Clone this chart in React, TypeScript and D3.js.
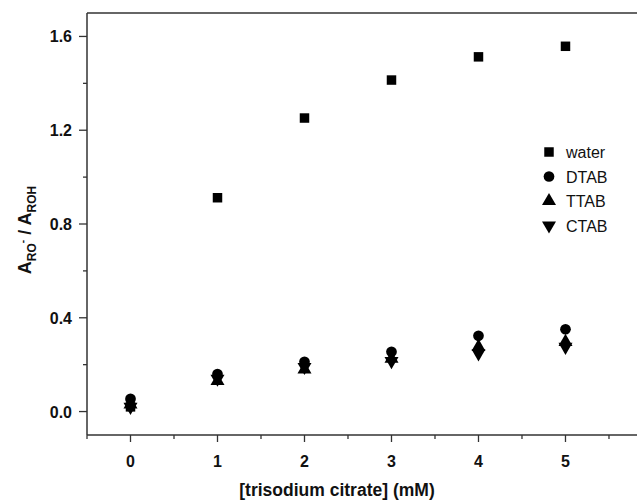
import React from "react";
import * as d3 from "d3";

const xValues = [0, 1, 2, 3, 4, 5];
const water = [0.02, 0.912, 1.252, 1.414, 1.513, 1.558];
const dtab = [0.054, 0.16, 0.212, 0.255, 0.323, 0.351];
const ttab = [0.03, 0.13, 0.18, 0.225, 0.276, 0.297];
const ctab = [0.02, 0.14, 0.19, 0.215, 0.248, 0.276];
const yTicks = [0.0, 0.4, 0.8, 1.2, 1.6];
const yMinor = [0.2, 0.6, 1.0, 1.4];
const xTicks = [0, 1, 2, 3, 4, 5];
const xMinor = [-0.5, 0.5, 1.5, 2.5, 3.5, 4.5, 5.5];
const legendLabels = ["water", "DTAB", "TTAB", "CTAB"];

const W = 637, H = 500;
const left = 87, right = 637, top = 13, bottom = 435;

export default function App() {
  const x = d3.scaleLinear().domain([-0.5, 5.822]).range([left, right]);
  const y = d3.scaleLinear().domain([-0.1, 1.7]).range([bottom, top]);
  const sq = d3.symbol().type(d3.symbolSquare).size(90)() as string;
  const ci = d3.symbol().type(d3.symbolCircle).size(90)() as string;
  const tri = d3.symbol().type(d3.symbolTriangle).size(85)() as string;
  const series = [
    { data: water, path: sq, rot: 0 },
    { data: dtab, path: ci, rot: 0 },
    { data: ttab, path: tri, rot: 0 },
    { data: ctab, path: tri, rot: 180 },
  ];
  const font = "'Liberation Sans', Arial, sans-serif";
  const stroke = "#333";
  return (
    <svg width={W} height={H} style={{ position: "absolute", left: 0, top: 0 }} fontFamily={font}>
      <rect width={W} height={H} fill="#fff" />
      <line x1={left} x2={right} y1={top} y2={top} stroke={stroke} strokeWidth={1.5} />
      <line x1={left} x2={right} y1={bottom} y2={bottom} stroke={stroke} strokeWidth={1.5} />
      <line x1={left} x2={left} y1={top} y2={bottom} stroke={stroke} strokeWidth={1.5} />
      {yTicks.map((t) => (
        <g key={"y" + t}>
          <line x1={left - 8} x2={left} y1={y(t)} y2={y(t)} stroke={stroke} strokeWidth={1.3} />
          <text x={left - 15} y={y(t) + 6} textAnchor="end" fontSize={16} fontWeight="bold" fill="#111">
            {t.toFixed(1)}
          </text>
        </g>
      ))}
      {yMinor.map((t) => (
        <line key={"ym" + t} x1={left - 4} x2={left} y1={y(t)} y2={y(t)} stroke={stroke} strokeWidth={1.3} />
      ))}
      {xTicks.map((t) => (
        <g key={"x" + t}>
          <line x1={x(t)} x2={x(t)} y1={bottom} y2={bottom + 7} stroke={stroke} strokeWidth={1.3} />
          <text x={x(t)} y={bottom + 32} textAnchor="middle" fontSize={16} fontWeight="bold" fill="#111">
            {t}
          </text>
        </g>
      ))}
      {xMinor.map((t) => (
        <line key={"xm" + t} x1={x(t)} x2={x(t)} y1={bottom} y2={bottom + 4} stroke={stroke} strokeWidth={1.3} />
      ))}
      <text x={337} y={496} textAnchor="middle" fontSize={17.5} fontWeight="bold" fill="#111">
        [trisodium citrate] (mM)
      </text>
      <text transform="translate(31,230) rotate(-90)" textAnchor="middle" fontSize={18} fontWeight="bold" fill="#111">
        <tspan>A</tspan>
        <tspan fontSize={12} dy={5}>RO</tspan>
        <tspan fontSize={10} dy={-10}>-</tspan>
        <tspan fontSize={18} dy={5}> / A</tspan>
        <tspan fontSize={12} dy={5}>ROH</tspan>
      </text>
      {series.map((s, si) =>
        s.data.map((v, i) => (
          <path
            key={si + "-" + i}
            d={s.path}
            transform={`translate(${x(xValues[i])},${y(v)}) rotate(${s.rot})`}
            fill="#000"
          />
        ))
      )}
      {series.map((s, si) => (
        <g key={"lg" + si} transform={`translate(549,${152 + si * 24.5})`}>
          <path d={s.path} transform={`rotate(${s.rot})`} fill="#000" />
          <text x={17} y={6} fontSize={16} fill="#111">
            {legendLabels[si]}
          </text>
        </g>
      ))}
    </svg>
  );
}
